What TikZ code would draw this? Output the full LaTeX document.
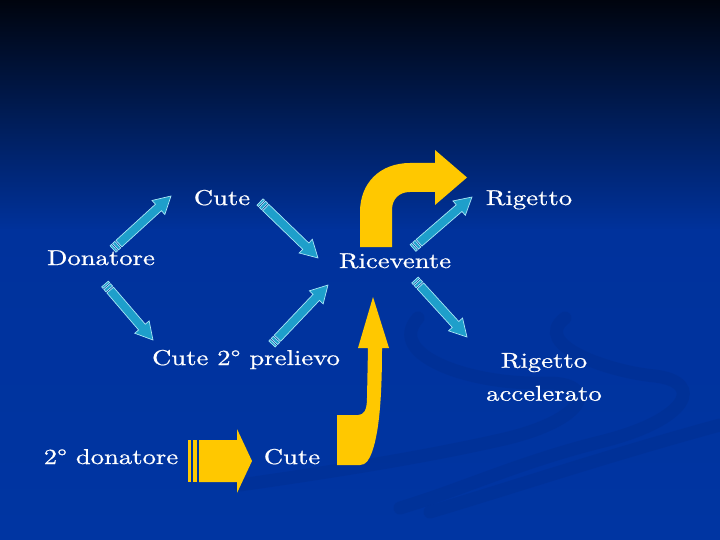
\documentclass[tikz,border=0pt]{standalone}
\usepackage{fontspec}
\setmainfont{lmroman10-regular.otf}[FakeStretch=1.24, FakeBold=0.7]
\definecolor{bgA}{HTML}{00040E}
\definecolor{bgB}{HTML}{001B52}
\definecolor{bgC}{HTML}{00329C}
\definecolor{bgD}{HTML}{0035A2}
\definecolor{swoosh}{HTML}{00297F}
\definecolor{arrowblue}{HTML}{1E9FCB}
\definecolor{arrowedge}{HTML}{A8E6F6}
\definecolor{arrowyellow}{HTML}{FFC800}
\tikzset{
  lbl/.style={text=white, font=\fontsize{21.5}{33}\selectfont, inner sep=0pt, anchor=base},
  barrow/.style={fill=arrowblue, draw=arrowedge, line width=0.7pt},
  yarrow/.style={fill=arrowyellow},
  swooshline/.style={draw=swoosh, line width=13pt, opacity=0.22, line cap=round}
}
\newcommand\stripearrow[7]{%
  \pgfpointdiff{\pgfpointanchor{#2}{center}}{\pgfpointanchor{#3}{center}}%
  \pgfgetlastxy{\sax}{\say}%
  \pgfmathsetmacro\saL{veclen(\sax,\say)}%
  \pgfmathsetmacro\saA{atan2(\say,\sax)}%
  \pgfmathsetmacro\saB{\saL-#6}%
  \begin{scope}[shift={(#2)}, rotate=\saA, x=1pt, y=1pt]
    \path[#1] (0,-#4) rectangle (2*#7,#4);
    \path[#1] (3.5*#7,-#4) rectangle (6.5*#7,#4);
    \path[#1] (8*#7,-#4) -- (\saB,-#4) -- (\saB,-#5) -- (\saL,0) -- (\saB,#5) -- (\saB,#4) -- (8*#7,#4) -- cycle;
  \end{scope}}
\begin{document}
\begin{tikzpicture}[x=1pt, y=-1pt]
\useasboundingbox (0,0) rectangle (720,540);
% background
\shade[top color=bgA, bottom color=bgB] (0,0) rectangle (720,111);
\shade[top color=bgB, bottom color=bgC] (0,110) rectangle (720,231);
\shade[top color=bgC, bottom color=bgD] (0,230) rectangle (720,540);
% decorative swooshes
\draw[swooshline] (418,318) .. controls (385,355) and (470,385) .. (545,383)
   .. controls (600,382) and (590,420) .. (500,440) .. controls (420,458) and (330,472) .. (240,485);
\draw[swooshline] (565,318) .. controls (530,345) and (610,372) .. (655,376)
   .. controls (705,382) and (690,420) .. (600,442) .. controls (520,462) and (460,490) .. (400,508);
\draw[swooshline] (720,425) .. controls (610,455) and (520,485) .. (430,512);

% labels
\node[lbl] (cute1) at (222,205) {Cute};
\node[lbl] (rig1) at (529,205) {Rigetto};
\node[lbl] (don) at (101,265) {Donatore};
\node[lbl] (ric) at (395,268) {Ricevente};
\node[lbl] (cute2) at (246,365) {Cute 2° prelievo};
\node[lbl, anchor=center, align=center] (rigacc) at (544,377) {Rigetto\\accelerato};
\node[lbl] (don2) at (111,464) {2° donatore};
\node[lbl] (cute3) at (292,464) {Cute};

% blue striped arrows
\coordinate (a1s) at (113,249); \coordinate (a1e) at (171,196);
\coordinate (a2s) at (260,202); \coordinate (a2e) at (318,258);
\coordinate (a3s) at (105,284); \coordinate (a3e) at (153,340);
\coordinate (a4s) at (272,344); \coordinate (a4e) at (328,285);
\coordinate (a5s) at (413,248); \coordinate (a5e) at (472,197);
\coordinate (a6s) at (415,280); \coordinate (a6e) at (467,337);
\stripearrow{barrow}{a1s}{a1e}{4.4}{9.5}{17}{1}
\stripearrow{barrow}{a2s}{a2e}{4.4}{9.5}{17}{1}
\stripearrow{barrow}{a3s}{a3e}{4.4}{9.5}{17}{1}
\stripearrow{barrow}{a4s}{a4e}{4.4}{9.5}{17}{1}
\stripearrow{barrow}{a5s}{a5e}{4.4}{9.5}{17}{1}
\stripearrow{barrow}{a6s}{a6e}{4.4}{9.5}{17}{1}

% yellow striped arrow
\coordinate (ys) at (188,461); \coordinate (ye) at (252,461);
\stripearrow{yarrow}{ys}{ye}{21}{32}{15}{1.4}

% yellow bent-up arrow (bottom)
\fill[arrowyellow] (337,465) -- (337,415) -- (358,415) .. controls (364,415) and (367,410) .. (367,398)
  -- (368,348) -- (358,348) -- (373,297) -- (389,348) -- (382,348)
  .. controls (382,390) and (380,430) .. (372,452) .. controls (369,460) and (366,465) .. (360,465) -- cycle;

% yellow bent arrow (top)
\fill[arrowyellow] (360,247) -- (360,212) .. controls (360,183) and (380,163) .. (410,163)
  -- (435,163) -- (435,150) -- (467,177.5) -- (435,205) -- (435,192) -- (410,192)
  .. controls (399,192) and (392,199) .. (392,210) -- (392,247) -- cycle;
\end{tikzpicture}
\end{document}
